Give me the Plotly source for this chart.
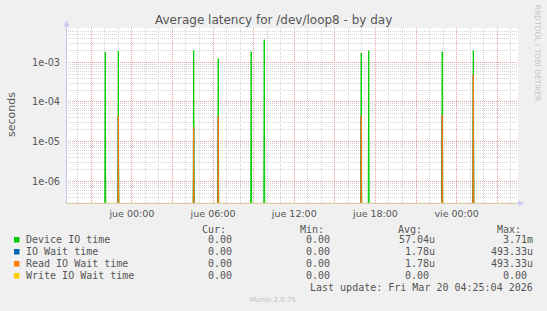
import plotly.graph_objects as go
from datetime import datetime, timedelta

# ---------------- data ----------------
spike_times = ["2026-03-18 22:02", "2026-03-18 23:00", "2026-03-19 04:34", "2026-03-19 06:23",
               "2026-03-19 08:49", "2026-03-19 09:47", "2026-03-19 16:57", "2026-03-19 17:30",
               "2026-03-19 22:56", "2026-03-20 01:14"]
device_io = [1.83e-3, 1.94e-3, 1.97e-3, 1.24e-3, 1.86e-3, 3.71e-3, 1.73e-3, 1.97e-3, 1.86e-3, 1.97e-3]
io_wait = [0, 4.5e-5, 2.3e-5, 4.3e-5, 0, 0, 4.5e-5, 0, 4.6e-5, 4.9333e-4]
read_io_wait = [0, 4.5e-5, 2.3e-5, 4.3e-5, 0, 0, 4.5e-5, 0, 4.6e-5, 4.9333e-4]
write_io_wait = [0, 0, 0, 0, 0, 0, 0, 0, 0, 0]

series_names = ["Device IO time", "IO Wait time", "Read IO Wait time", "Write IO Wait time"]
series_colors = ["#00cc00", "#0066b3", "#ff8000", "#ffcc00"]
series_fills = ["rgba(0,204,0,0.45)", "rgba(0,102,179,0.45)", "rgba(255,128,0,0.55)", "rgba(255,204,0,0.45)"]
cur_vals = ["0.00", "0.00", "0.00", "0.00"]
min_vals = ["0.00", "0.00", "0.00", "0.00"]
avg_vals = ["57.04u", "1.78u", "1.78u", "0.00"]
max_vals = ["3.71m", "493.33u", "493.33u", "0.00"]

x_tick_vals = ["2026-03-18 21:00", "2026-03-19 00:00", "2026-03-19 03:00", "2026-03-19 06:00",
               "2026-03-19 09:00", "2026-03-19 12:00", "2026-03-19 15:00", "2026-03-19 18:00",
               "2026-03-19 21:00", "2026-03-20 00:00", "2026-03-20 03:00"]
x_tick_text = ["", "jue 00:00", "", "jue 06:00", "", "jue 12:00", "", "jue 18:00", "", "vie 00:00", ""]
y_tick_vals = [1e-6, 1e-5, 1e-4, 1e-3]
y_tick_text = ["1e-06", "1e-05", "1e-04", "1e-03"]

x_range = ["2026-03-18 19:08", "2026-03-20 04:32"]
y_range_log = [-6.547, -2.135]

# ---------------- layout geometry ----------------
W, H = 547, 311
L, R, T, B = 66, 518, 28, 203
PW, PH = R - L, B - T


def px(x):
    return (x - L) / PW


def py(y):
    return (B - y) / PH


FLOOR = 1e-12
STEP = timedelta(minutes=5)


def spike_series(times, vals):
    xs, ys = [], []
    for t, v in zip(times, vals):
        if v <= 0:
            continue
        tt = datetime.strptime(t, "%Y-%m-%d %H:%M")
        xs += [tt - STEP, tt, tt + STEP, None]
        ys += [FLOOR, v, FLOOR, None]
    return xs, ys


fig = go.Figure()
for name, vals, col, fc in zip(series_names, [device_io, io_wait, read_io_wait, write_io_wait],
                               series_colors, series_fills):
    xs, ys = spike_series(spike_times, vals)
    fig.add_trace(go.Scatter(x=xs, y=ys, mode="lines", name=name, fill="toself", fillcolor=fc,
                             line=dict(color=col, width=1), hoverinfo="skip",
                             showlegend=False, connectgaps=False))

minor_y = [m * 10.0 ** e for e in range(-7, -1) for m in range(2, 10)]

fig.update_layout(
    width=W, height=H,
    margin=dict(l=L, r=W - R, t=T, b=H - B, pad=0),
    paper_bgcolor="#f0f0f0", plot_bgcolor="#ffffff",
    showlegend=False,
    font=dict(family="DejaVu Sans", color="#555555"),
    xaxis=dict(type="date", range=x_range, tickmode="array", tickvals=x_tick_vals,
               ticktext=x_tick_text, ticks="", showline=False, zeroline=False,
               showgrid=True, gridcolor="#eba0a0", griddash="1px,1px", gridwidth=1,
               tickfont=dict(size=9.5, color="#555555"), ticklabelstandoff=3,
               minor=dict(showgrid=True, dtick=3600000, tick0="2026-03-18 00:00",
                          gridcolor="#d4d4d4", griddash="1px,1px", gridwidth=1)),
    yaxis=dict(type="log", range=y_range_log, tickmode="array", tickvals=y_tick_vals,
               ticktext=y_tick_text, ticks="", showline=False, zeroline=False,
               showgrid=True, gridcolor="#eba0a0", griddash="1px,1px", gridwidth=1,
               tickfont=dict(size=9.7, color="#555555"), ticklabelstandoff=5,
               minor=dict(showgrid=True, tickmode="array", tickvals=minor_y,
                          gridcolor="#d4d4d4", griddash="1px,1px", gridwidth=1)),
)

shapes = []
# bottom baseline and left axis
shapes.append(dict(type="line", xref="paper", yref="paper", x0=0, x1=1, y0=py(203.3), y1=py(203.3),
                   line=dict(color="#d9c690", width=1)))
shapes.append(dict(type="line", xref="paper", yref="paper", x0=px(66.5), x1=px(66.5), y0=py(203.5), y1=py(22),
                   line=dict(color="#c8c8ee", width=1)))
shapes.append(dict(type="line", xref="paper", yref="paper", x0=1, x1=px(521), y0=py(203.3), y1=py(203.3),
                   line=dict(color="#c8c8ee", width=1)))
# arrows
shapes.append(dict(type="path", xref="paper", yref="paper",
                   path=f"M {px(63.5)} {py(26.5)} L {px(69.5)} {py(26.5)} L {px(66.5)} {py(20.5)} Z",
                   fillcolor="#c8c8f4", line=dict(width=0)))
shapes.append(dict(type="path", xref="paper", yref="paper",
                   path=f"M {px(518.5)} {py(200.3)} L {px(518.5)} {py(206.3)} L {px(524.5)} {py(203.3)} Z",
                   fillcolor="#c8c8f4", line=dict(width=0)))

annotations = []


def txt(x, y, s, size, color="#555555", xanchor="left", family="DejaVu Sans", angle=0):
    annotations.append(dict(x=px(x), y=py(y), xref="paper", yref="paper", text=s, showarrow=False,
                            xanchor=xanchor, yanchor="middle", borderpad=0, borderwidth=0,
                            textangle=angle, font=dict(size=size, color=color, family=family)))


txt(273, 19.5, "Average latency for /dev/loop8 - by day", 12, "#555555", "center")
txt(11.5, 114.5, "seconds", 11, "#555555", "center", angle=-90)
txt(537.7, 53.4, "RRDTOOL / TOBI OETIKER", 7.5, "#c4c4c4", "center", angle=90)

MONO = "DejaVu Sans Mono"
LEG = 10
txt(226.1, 229.5, "Cur:", LEG, xanchor="right", family=MONO)
txt(323.8, 229.5, "Min:", LEG, xanchor="right", family=MONO)
txt(422.2, 229.5, "Avg:", LEG, xanchor="right", family=MONO)
txt(520.6, 229.5, "Max:", LEG, xanchor="right", family=MONO)

row_y = [239.7, 251.7, 263.7, 275.7]
CW = 6.02


def val_right(edge, s):
    return edge if s[-1].isalpha() else edge - CW


for i, name in enumerate(series_names):
    y = row_y[i]
    shapes.append(dict(type="rect", xref="paper", yref="paper",
                       x0=px(14), x1=px(19.5), y0=py(y - 2.7), y1=py(y + 2.8),
                       fillcolor=series_colors[i], line=dict(width=0)))
    txt(26, y, name, LEG, family=MONO)
    txt(val_right(232 + CW, cur_vals[i]), y, cur_vals[i], LEG, xanchor="right", family=MONO)
    txt(val_right(330 + CW, min_vals[i]), y, min_vals[i], LEG, xanchor="right", family=MONO)
    txt(val_right(434.8, avg_vals[i]), y, avg_vals[i], LEG, xanchor="right", family=MONO)
    txt(val_right(533.1, max_vals[i]), y, max_vals[i], LEG, xanchor="right", family=MONO)

txt(533.1, 287.5, "Last update: Fri Mar 20 04:25:04 2026", LEG, xanchor="right", family=MONO)
txt(272.9, 300, "Munin 2.0.75", 7, "#c0c0c0", "center")

fig.update_layout(shapes=shapes, annotations=annotations)
fig.write_html("out.html")
